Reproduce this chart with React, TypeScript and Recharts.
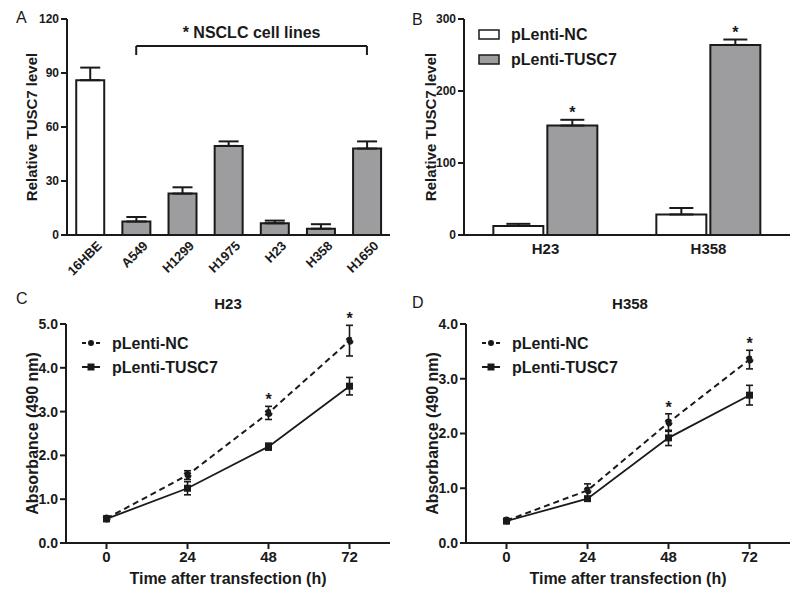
import React from "react";
import {
  BarChart,
  Bar,
  Cell,
  LineChart,
  Line,
  XAxis,
  YAxis,
  ErrorBar,
  ReferenceLine,
  ReferenceDot,
  LabelList,
  Legend,
} from "recharts";

// Panel A
const cellNames = ["16HBE", "A549", "H1299", "H1975", "H23", "H358", "H1650"];
const cellLevels = [86, 7.5, 23, 49.5, 6.5, 3.5, 48];
const cellErrs = [7, 2.5, 3.5, 2.5, 1.5, 2.5, 4];

// Panel B
const groupNames = ["H23", "H358"];
const ncLevels = [12.5, 28.5];
const ncErrs = [3, 9];
const tuscLevels = [152, 264];
const tuscErrs = [8, 7.5];

// Panels C, D
const hours = [0, 24, 48, 72];
const h23Nc = [0.56, 1.55, 2.97, 4.62];
const h23NcErr = [0.05, 0.1, 0.15, 0.35];
const h23Tusc = [0.55, 1.25, 2.2, 3.58];
const h23TuscErr = [0.05, 0.15, 0.08, 0.2];
const h358Nc = [0.41, 0.96, 2.2, 3.35];
const h358NcErr = [0.03, 0.12, 0.16, 0.17];
const h358Tusc = [0.4, 0.81, 1.92, 2.7];
const h358TuscErr = [0.03, 0.03, 0.14, 0.18];
const starHours = [48, 72];

const FONT = "'Liberation Sans', Arial, sans-serif";
const INK = "#1a1a1a";
const GRAY = "#9d9d9f";

const dataA = cellNames.map((name, i) => ({ name, value: cellLevels[i], err: [0, cellErrs[i]] }));
const dataB = groupNames.map((name, i) => ({
  name,
  nc: ncLevels[i],
  ncErr: [0, ncErrs[i]],
  tusc: tuscLevels[i],
  tuscErr: [0, tuscErrs[i]],
}));
const makeLine = (nc: number[], ncE: number[], tu: number[], tuE: number[]) =>
  hours.map((t, i) => ({ t, nc: nc[i], ncErr: ncE[i], tusc: tu[i], tuscErr: tuE[i] }));
const dataC = makeLine(h23Nc, h23NcErr, h23Tusc, h23TuscErr);
const dataD = makeLine(h358Nc, h358NcErr, h358Tusc, h358TuscErr);

const tickStyle = (size: number) => ({ fontSize: size, fontWeight: 700, fill: INK, fontFamily: FONT });
const axisLine = { stroke: INK, strokeWidth: 2 };
const titleStyle = { fontSize: 16, fontWeight: 700, fill: INK, fontFamily: FONT };

const BarLegend = () => (
  <svg width={160} height={50}>
    {[
      { fill: "#fff", text: "pLenti-NC", y: 8 },
      { fill: GRAY, text: "pLenti-TUSC7", y: 33 },
    ].map((d) => (
      <g key={d.text}>
        <rect x={1} y={d.y - 4} width={20} height={9} fill={d.fill} stroke={INK} strokeWidth={1.5} />
        <text x={33} y={d.y + 6} style={titleStyle}>
          {d.text}
        </text>
      </g>
    ))}
  </svg>
);

const LineLegend = () => (
  <svg width={160} height={50}>
    <line x1={2} y1={8} x2={20} y2={8} stroke={INK} strokeWidth={2} strokeDasharray="4 3" />
    <circle cx={11} cy={8} r={3} fill={INK} />
    <text x={32} y={14} style={titleStyle}>pLenti-NC</text>
    <line x1={2} y1={32} x2={20} y2={32} stroke={INK} strokeWidth={2} />
    <rect x={7.5} y={28.5} width={7} height={7} fill={INK} />
    <text x={32} y={38} style={titleStyle}>pLenti-TUSC7</text>
  </svg>
);

const SquareDot = (p: any) => (
  <rect key={p.key} x={p.cx - 3.5} y={p.cy - 3.5} width={7} height={7} fill={INK} />
);

const BarStar = (p: any) => {
  const vb = p.viewBox || p;
  const x = vb.x ?? p.x;
  const y = vb.y ?? p.y;
  const w = vb.width ?? p.width;
  const h = vb.height ?? p.height;
  const d = dataB[p.index];
  if (!d) return null;
  const k = h / d.tusc;
  const top = y - d.tuscErr[1] * k;
  return (
    <text x={x + w / 2} y={top - 2} textAnchor="middle" style={titleStyle}>
      *
    </text>
  );
};

const GrowthPanel = ({ data, yMax }: { data: typeof dataC; yMax: number }) => {
  const yTicks = Array.from({ length: yMax + 1 }, (_, i) => i);
  return (
    <LineChart width={400} height={324} data={data} margin={{ top: 54, right: 10, left: 0, bottom: 0 }}>
      <XAxis
        dataKey="t"
        type="number"
        domain={[-12, 84]}
        ticks={hours}
        tick={tickStyle(15)}
        axisLine={axisLine}
        tickLine={axisLine}
        height={51}
        label={{ value: "Time after transfection (h)", position: "insideBottom", offset: 10, style: titleStyle }}
      />
      <YAxis
        domain={[0, yMax]}
        ticks={yTicks}
        tickFormatter={(v: number) => v.toFixed(1)}
        tick={tickStyle(14)}
        axisLine={axisLine}
        tickLine={axisLine}
        width={66}
        label={{ value: "Absorbance (490 nm)", angle: -90, position: "center", dx: -1, style: titleStyle }}
      />
      <Legend
        layout="vertical"
        align="center"
        verticalAlign="middle"
        content={() => <LineLegend />}
        wrapperStyle={{ top: 65, left: 80, width: 160, height: 50 }}
      />
      <Line
        dataKey="nc"
        stroke={INK}
        strokeWidth={2}
        strokeDasharray="6 4"
        dot={{ r: 3, fill: INK, stroke: INK }}
        isAnimationActive={false}
      >
        <ErrorBar dataKey="ncErr" direction="y" width={3.5} stroke={INK} strokeWidth={1.6} />
      </Line>
      <Line dataKey="tusc" stroke={INK} strokeWidth={1.8} dot={SquareDot} isAnimationActive={false}>
        <ErrorBar dataKey="tuscErr" direction="y" width={3.5} stroke={INK} strokeWidth={1.6} />
      </Line>
      {starHours.map((h) => {
        const d = data.find((r) => r.t === h)!;
        return (
          <ReferenceDot
            key={h}
            x={h}
            y={d.nc + d.ncErr}
            r={0}
            fill="none"
            stroke="none"
            label={{ value: "*", position: "top", offset: 1, style: titleStyle }}
          />
        );
      })}
    </LineChart>
  );
};

const Tag = ({ x, y, text, bold, size }: { x: number; y: number; text: string; bold?: boolean; size?: number }) => (
  <div
    style={{
      position: "absolute",
      left: x,
      top: y,
      transform: bold ? "translate(-50%, -50%)" : "translate(0, -50%)",
      fontSize: size ?? 16,
      fontWeight: bold ? 700 : 400,
      color: INK,
      fontFamily: FONT,
      whiteSpace: "nowrap",
      lineHeight: 1,
    }}
  >
    {text}
  </div>
);

export default function App() {
  return (
    <div style={{ position: "absolute", left: 0, top: 0, width: 800, height: 594, background: "#fff", fontFamily: FONT }}>
      <div style={{ position: "absolute", left: 0, top: 0 }}>
        <BarChart width={400} height={290} data={dataA} margin={{ top: 19, right: 10, left: 0, bottom: 0 }} barCategoryGap="20%">
          <XAxis
            dataKey="name"
            interval={0}
            height={55}
            axisLine={axisLine}
            tickLine={false}
            tick={{ ...tickStyle(13), angle: -45, textAnchor: "end", dx: 6, dy: -3 } as any}
          />
          <YAxis
            domain={[0, 120]}
            ticks={[0, 30, 60, 90, 120]}
            tick={tickStyle(12)}
            axisLine={axisLine}
            tickLine={axisLine}
            width={67}
            label={{ value: "Relative TUSC7 level", angle: -90, position: "center", dx: -2, style: { ...titleStyle, fontSize: 15 } }}
          />
          <Bar dataKey="value" stroke={INK} strokeWidth={2} isAnimationActive={false}>
            {dataA.map((d, i) => (
              <Cell key={d.name} fill={i === 0 ? "#fff" : GRAY} />
            ))}
            <ErrorBar dataKey="err" direction="y" width={10} stroke={INK} strokeWidth={2} />
          </Bar>
          <ReferenceLine
            segment={[
              { x: "A549", y: 105 },
              { x: "H1650", y: 105 },
            ]}
            stroke={INK}
            strokeWidth={2}
            label={{ value: "* NSCLC cell lines", position: "top", offset: 8, style: titleStyle }}
          />
          <ReferenceLine segment={[{ x: "A549", y: 105 }, { x: "A549", y: 100 }]} stroke={INK} strokeWidth={2} />
          <ReferenceLine segment={[{ x: "H1650", y: 105 }, { x: "H1650", y: 100 }]} stroke={INK} strokeWidth={2} />
        </BarChart>
      </div>

      <div style={{ position: "absolute", left: 400, top: 0 }}>
        <BarChart width={400} height={270} data={dataB} margin={{ top: 19, right: 10, left: 0, bottom: 0 }} barCategoryGap="18%" barGap={4}>
          <XAxis dataKey="name" height={35} axisLine={axisLine} tickLine={false} tick={tickStyle(15)} />
          <YAxis
            domain={[0, 300]}
            ticks={[0, 100, 200, 300]}
            tick={tickStyle(12)}
            axisLine={axisLine}
            tickLine={axisLine}
            width={64}
            label={{ value: "Relative TUSC7 level", angle: -90, position: "center", dx: -1, style: { ...titleStyle, fontSize: 15 } }}
          />
          <Legend
            layout="vertical"
            align="center"
            verticalAlign="middle"
            content={() => <BarLegend />}
            wrapperStyle={{ top: 26, left: 78, width: 160, height: 50 }}
          />
          <Bar dataKey="nc" fill="#fff" stroke={INK} strokeWidth={2} isAnimationActive={false}>
            <ErrorBar dataKey="ncErr" direction="y" width={12} stroke={INK} strokeWidth={2} />
          </Bar>
          <Bar dataKey="tusc" fill={GRAY} stroke={INK} strokeWidth={2} isAnimationActive={false}>
            <ErrorBar dataKey="tuscErr" direction="y" width={12} stroke={INK} strokeWidth={2} />
            <LabelList dataKey="tusc" content={BarStar} />
          </Bar>
        </BarChart>
      </div>

      <div style={{ position: "absolute", left: 0, top: 270 }}>
        <GrowthPanel data={dataC} yMax={5} />
      </div>
      <div style={{ position: "absolute", left: 400, top: 270 }}>
        <GrowthPanel data={dataD} yMax={4} />
      </div>

      <Tag x={16} y={18} text="A" />
      <Tag x={412} y={20} text="B" />
      <Tag x={16} y={299} text="C" />
      <Tag x={412} y={303} text="D" />
      <Tag x={228} y={303} text="H23" bold size={15} />
      <Tag x={630} y={303} text="H358" bold size={15} />
    </div>
  );
}
